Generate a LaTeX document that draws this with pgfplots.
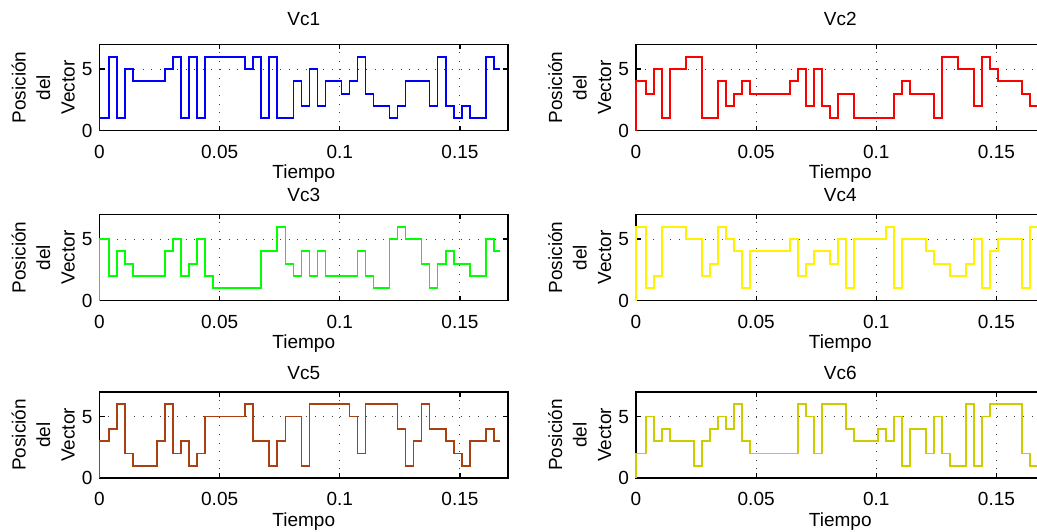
\documentclass[border=0pt]{standalone}
\usepackage{fontspec}
\setmainfont{Liberation Sans}
\usepackage{pgfplots}
\usepackage{pgfplotstable}
\pgfplotsset{compat=1.18}

\definecolor{vcbrown}{RGB}{168,64,16}
\definecolor{vcolive}{RGB}{204,204,0}

% posicion de cada condensador en el vector ordenado (cambia cada 1/300 s)
\pgfplotstableread{
t       v1 v2 v3 v4 v5 v6
0       0  0  0  0  0  0
0       1  4  5  6  3  2
0.00403 6  3  2  1  4  5
0.00737 1  5  4  2  6  3
0.01070 5  1  3  6  2  4
0.01403 4  5  2  6  1  3
0.01737 4  5  2  6  1  3
0.02070 4  6  2  5  1  3
0.02403 4  6  2  5  3  1
0.02737 5  1  4  2  6  3
0.03070 6  1  5  3  2  4
0.03403 1  4  2  6  3  5
0.03737 6  2  3  5  1  4
0.04070 1  3  5  4  2  6
0.04403 6  4  2  1  5  3
0.04737 6  3  1  4  5  2
0.05070 6  3  1  4  5  2
0.05403 6  3  1  4  5  2
0.05737 6  3  1  4  5  2
0.06070 5  3  1  4  6  2
0.06403 6  4  1  5  3  2
0.06737 1  5  4  2  3  6
0.07070 6  2  4  3  1  5
0.07403 1  5  6  4  3  2
0.07737 1  2  3  4  5  6
0.08070 4  1  2  3  5  6
0.08403 2  3  4  5  1  6
0.08737 5  3  2  1  6  4
0.09070 2  1  4  5  6  3
0.09403 4  1  2  5  6  3
0.09737 4  1  2  5  6  3
0.10070 3  1  2  5  6  4
0.10403 4  1  2  6  5  3
0.10737 6  3  4  1  2  5
0.11070 3  4  2  5  6  1
0.11403 2  3  1  5  6  4
0.11737 2  3  1  5  6  4
0.12070 1  3  5  4  6  2
0.12403 2  1  6  3  4  5
0.12737 4  6  5  3  1  2
0.13070 4  6  5  2  3  1
0.13403 4  5  3  2  6  1
0.13737 2  5  1  3  4  6
0.14070 6  2  3  5  4  1
0.14403 2  6  4  1  3  5
0.14737 1  5  3  4  2  6
0.15070 2  4  3  5  1  6
0.15403 1  4  2  5  3  6
0.15737 1  4  2  5  3  6
0.16070 6  3  5  1  4  2
0.16403 5  2  4  6  3  1
0.16667 5  2  4  6  3  1
}\vectores

\pgfplotsset{
  vc/.style={
    scale only axis, width=204.25pt, height=43pt,
    xmin=0, xmax=0.17, ymin=0, ymax=7,
    xtick={0,0.05,0.1,0.15}, xticklabels={0,0.05,0.1,0.15},
    ytick={0,5},
    scaled x ticks=false,
    tick align=inside, major tick length=2.5pt,
    xmajorgrids, ymajorgrids,
    grid style={black!75, line width=0.5pt, dash pattern=on 0.5pt off 3.8pt},
    axis line style={line width=0.6pt},
    tick style={black, line width=0.6pt},
    clip=false,
    /pgf/number format/assume math mode=true,
    font=\fontsize{9.5}{12.25}\selectfont,
    xlabel={Tiempo},
    ylabel={Posición\\del\\Vector},
    ylabel style={align=center, at={(axis description cs:-0.138,0.5)}, anchor=center},
    xlabel style={at={(axis description cs:0.5,0)}, anchor=base, yshift=-24pt},
    xticklabel style={anchor=base, yshift=-13.75pt},
    title style={at={(axis description cs:0.5,1)}, anchor=base, yshift=3.4pt},
    every axis plot/.append style={const plot, line width=0.9pt, line join=miter},
  },
  vclow/.style={vc, title style={yshift=-3pt}},
}

\begin{document}
\begin{tikzpicture}
\begin{axis}[vc, at={(49.75pt,200.25pt)}, anchor=south west, title={Vc1}]
  \addplot[blue] table[x=t, y=v1] {\vectores};
\end{axis}
\begin{axis}[vc, at={(318pt,200.25pt)}, anchor=south west, title={Vc2}]
  \addplot[red] table[x=t, y=v2] {\vectores};
\end{axis}
\begin{axis}[vclow, at={(49.75pt,115.25pt)}, anchor=south west, title={Vc3}]
  \addplot[green] table[x=t, y=v3] {\vectores};
\end{axis}
\begin{axis}[vclow, at={(318pt,115.25pt)}, anchor=south west, title={Vc4}]
  \addplot[yellow] table[x=t, y=v4] {\vectores};
\end{axis}
\begin{axis}[vclow, at={(49.75pt,26.5pt)}, anchor=south west, title={Vc5}]
  \addplot[vcbrown] table[x=t, y=v5] {\vectores};
\end{axis}
\begin{axis}[vclow, at={(318pt,26.5pt)}, anchor=south west, title={Vc6}]
  \addplot[vcolive] table[x=t, y=v6] {\vectores};
\end{axis}
\pgfresetboundingbox
\useasboundingbox (0,0) rectangle (518.5pt,265.5pt);
\end{tikzpicture}
\end{document}
